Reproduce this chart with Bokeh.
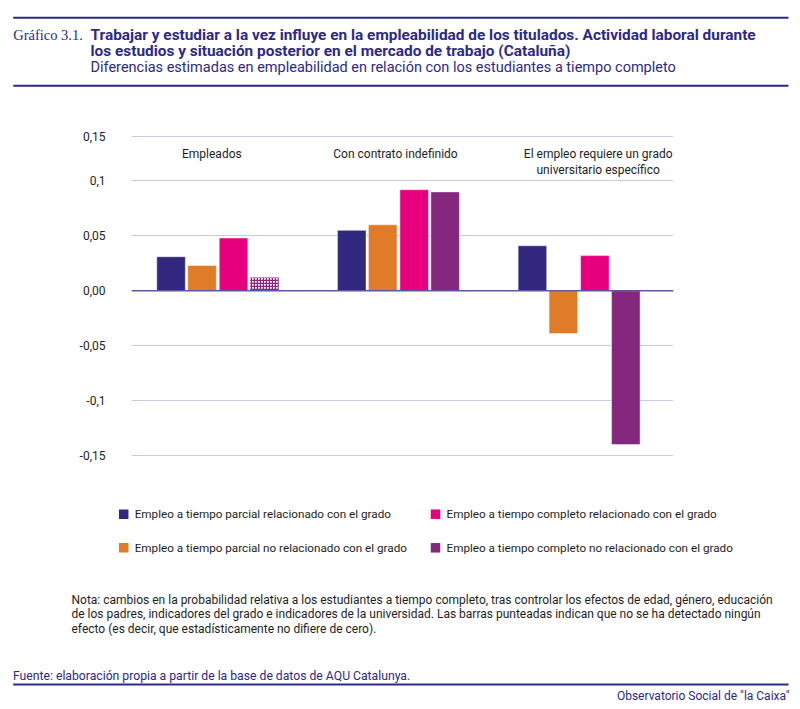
from bokeh.plotting import figure
from bokeh.models import Range1d, FactorRange, FixedTicker, Span, ColumnDataSource
from bokeh.transform import dodge
from bokeh.layouts import column
from bokeh.core.properties import value
from bokeh.embed import file_html
from bokeh.resources import INLINE

# ---------------- data ----------------
groups = ["Empleados", "Con contrato indefinido",
          "El empleo requiere un grado universitario específico"]
group_labels = ["Empleados", "Con contrato indefinido",
                "El empleo requiere un grado\nuniversitario específico"]
series_names = ["Empleo a tiempo parcial relacionado con el grado",
                "Empleo a tiempo parcial no relacionado con el grado",
                "Empleo a tiempo completo relacionado con el grado",
                "Empleo a tiempo completo no relacionado con el grado"]
parcial_relacionado = [0.031, 0.055, 0.041]
parcial_no_relacionado = [0.023, 0.060, -0.039]
completo_relacionado = [0.048, 0.092, 0.032]
completo_no_relacionado = [0.012, 0.090, -0.140]
# significance flags (False -> dotted bar)
sig_parcial_relacionado = [True, True, True]
sig_parcial_no_relacionado = [True, True, True]
sig_completo_relacionado = [True, True, True]
sig_completo_no_relacionado = [False, True, True]
y_ticks = [-0.15, -0.1, -0.05, 0.0, 0.05, 0.1, 0.14]
y_tick_labels = ["-0,15", "-0,1", "-0,05", "0,00", "0,05", "0,1", "0,15"]

title_prefix = "Gráfico 3.1."
title_lines = ["Trabajar y estudiar a la vez influye en la empleabilidad de los titulados. Actividad laboral durante",
               "los estudios y situación posterior en el mercado de trabajo (Cataluña)"]
subtitle = "Diferencias estimadas en empleabilidad en relación con los estudiantes a tiempo completo"
note_lines = ["Nota: cambios en la probabilidad relativa a los estudiantes a tiempo completo, tras controlar los efectos de edad, género, educación",
              "de los padres, indicadores del grado e indicadores de la universidad. Las barras punteadas indican que no se ha detectado ningún",
              "efecto (es decir, que estadísticamente no difiere de cero)."]
source_text = "Fuente: elaboración propia a partir de la base de datos de AQU Catalunya."
brand_text = "Observatorio Social de \"la Caixa\""

# ---------------- styles ----------------
colors = ["#33287f", "#e07b27", "#e6007e", "#85267f"]
navy = "#2d2a85"
text_dark = "#1e1e1e"
FONT = value("Roboto")
W = 800

def blank_fig(height, y0, y1):
    f = figure(width=W, height=height, x_range=Range1d(0, W), y_range=Range1d(y1, y0),
               x_axis_type=None, y_axis_type=None, toolbar_location=None,
               output_backend="svg", min_border=0)
    f.outline_line_color = None
    f.grid.visible = False
    f.frame_align = False
    return f

# ---------------- header ----------------
hdr = blank_fig(98, 0, 98)
hdr.segment(x0=[12.7, 12.7], x1=[788, 788], y0=[17.3, 85.3], y1=[17.3, 85.3],
            line_color=navy, line_width=2)
hdr.text(x=[12.7], y=[34.3], text=[title_prefix], text_font=value("Liberation Serif"),
         text_font_size="14.5px", text_color=navy, text_baseline="middle")
hdr.text(x=[90, 90], y=[34.3, 50.8], text=title_lines, text_font=FONT,
         text_font_size="15.4px", text_font_style="bold", text_color=navy,
         text_baseline="middle")
hdr.text(x=[90], y=[66.8], text=[subtitle], text_font=FONT, text_font_size="14.5px",
         text_color=navy, text_baseline="middle")

# ---------------- main chart ----------------
p = figure(width=W, height=382, x_range=FactorRange(*groups, range_padding=0),
           y_range=Range1d(-0.17, 0.155), toolbar_location=None, output_backend="svg",
           min_border_left=131, min_border_right=127, min_border_top=22,
           min_border_bottom=3)
p.frame_align = False
p.outline_line_color = None
p.xaxis.visible = False
p.xgrid.visible = False
p.yaxis.ticker = FixedTicker(ticks=y_ticks)
p.yaxis.major_label_overrides = {t: l for t, l in zip(y_ticks, y_tick_labels)}
p.yaxis.axis_line_color = None
p.yaxis.major_tick_line_color = None
p.yaxis.minor_tick_line_color = None
p.yaxis.major_label_standoff = 20
p.yaxis.major_label_text_font = "Roboto"
p.yaxis.major_label_text_font_size = "12px"
p.yaxis.major_label_text_color = text_dark
p.ygrid.ticker = FixedTicker(ticks=y_ticks)
p.ygrid.grid_line_color = "#cdc9e0"
p.ygrid.grid_line_width = 1

all_values = [parcial_relacionado, parcial_no_relacionado, completo_relacionado, completo_no_relacionado]
all_sig = [sig_parcial_relacionado, sig_parcial_no_relacionado, sig_completo_relacionado, sig_completo_no_relacionado]
offsets = [-0.281, -0.1096, 0.0647, 0.236]
bar_w = 0.158
for vals, sig, col, off in zip(all_values, all_sig, colors, offsets):
    s_src = ColumnDataSource(dict(x=[g for g, s in zip(groups, sig) if s],
                                  top=[v for v, s in zip(vals, sig) if s]))
    p.vbar(x=dodge("x", off, range=p.x_range), top="top", bottom=0, width=bar_w,
           source=s_src, fill_color=col, line_color="white", line_alpha=0.45, line_width=1)
    n_src = ColumnDataSource(dict(x=[g for g, s in zip(groups, sig) if not s],
                                  top=[v for v, s in zip(vals, sig) if not s]))
    p.vbar(x=dodge("x", off, range=p.x_range), top="top", bottom=0, width=bar_w,
           source=n_src, fill_color="white", line_color=None,
           hatch_pattern="cross", hatch_color=col, hatch_scale=3, hatch_weight=1.5)

p.add_layout(Span(location=0, dimension="width", line_color="#5f55aa", line_width=1.5))

label_offsets = [-10, -7, 15]
p.text(x=groups, y=[0.131] * 3, text=group_labels, x_offset=label_offsets,
       text_font=FONT, text_font_size="12px", text_color=text_dark,
       text_align="center", text_baseline="top", text_line_height=1.17)

# ---------------- footer: legend, note, source ----------------
ftr = blank_fig(229, 480, 709)
leg_x = [123.2, 123.2, 435, 435]
leg_y = [513.7, 547.3, 513.7, 547.3]
ftr.scatter(x=leg_x, y=leg_y, marker="square", size=9.5, fill_color=colors, line_color=None)
ftr.text(x=[x + 11 for x in leg_x], y=leg_y, text=series_names, text_font=FONT,
         text_font_size="11.7px", text_color=text_dark, text_baseline="middle")
ftr.text(x=[71] * 3, y=[599, 613.5, 628], text=note_lines, text_font=FONT,
         text_font_size="12px", text_color=text_dark, text_baseline="middle")
ftr.text(x=[12.5], y=[675], text=[source_text], text_font=FONT, text_font_size="12.2px",
         text_color=navy, text_baseline="middle")
ftr.segment(x0=[12.7], x1=[788], y0=[684], y1=[684], line_color=navy, line_width=2)
ftr.text(x=[789], y=[695], text=[brand_text], text_font=FONT, text_font_size="12px",
         text_color=navy, text_baseline="middle", text_align="right")

layout = column(hdr, p, ftr, spacing=0)
open("out.html", "w").write(file_html(layout, INLINE))
